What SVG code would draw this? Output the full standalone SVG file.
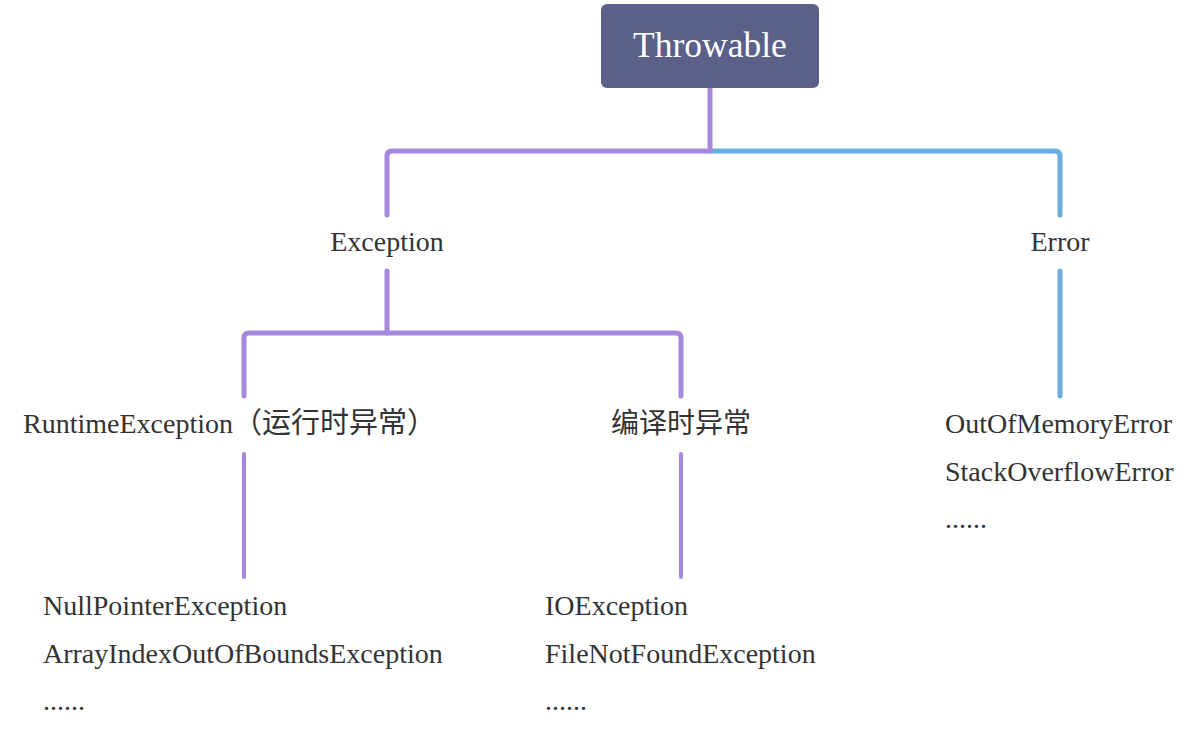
<svg xmlns="http://www.w3.org/2000/svg" width="1198" height="734" viewBox="0 0 1198 734">
<style>
.t{font-family:"Liberation Serif","Noto Sans CJK SC",serif;font-size:28px;fill:#333}
.c{font-family:"Noto Sans CJK SC","Liberation Sans",sans-serif;font-size:28px;fill:#333}
.p{fill:none;stroke:#a688dc;stroke-width:5;stroke-linecap:round;stroke-linejoin:round}
.b{fill:none;stroke:#6aaee0;stroke-width:5;stroke-linecap:round;stroke-linejoin:round}
.thin{stroke-width:4}
</style>
<rect width="1198" height="734" fill="#fff"/>
<g id="connectors">
<path class="b" d="M710 151 H1055 Q1060 151 1060 156 V215"/>
<path class="p" d="M710 88 V151 H392 Q387 151 387 156 V215"/>
<path class="p" d="M387 271 V333 H249 Q244 333 244 338 V396"/>
<path class="p" d="M387 333 H676 Q681 333 681 338 V396"/>
<path class="p thin" d="M244 454 V577"/>
<path class="p thin" d="M681 454 V577"/>
<path class="b" d="M1060 271 V396"/>
</g>
<g id="throwable">
<rect x="601" y="4" width="218" height="84" rx="6" fill="#5a6087"/>
<text x="710" y="57" text-anchor="middle" style="font-family:'Liberation Serif',serif;font-size:35.5px;fill:#fff">Throwable</text>
</g>
<g id="exception"><text class="t" x="387" y="251" text-anchor="middle">Exception</text></g>
<g id="error"><text class="t" x="1060" y="251" text-anchor="middle">Error</text></g>
<g id="runtime"><text class="t" x="23" y="433">RuntimeException<tspan class="c" style="font-size:29px">（运行时异常）</tspan></text></g>
<g id="checked"><text class="c" x="681" y="433" text-anchor="middle">编译时异常</text></g>
<g id="errors">
<text class="t" x="945" y="433">OutOfMemoryError</text>
<text class="t" x="945" y="481">StackOverflowError</text>
<text class="t" x="945" y="528">......</text>
</g>
<g id="runtime-list">
<text class="t" x="43" y="615">NullPointerException</text>
<text class="t" x="43" y="663">ArrayIndexOutOfBoundsException</text>
<text class="t" x="43" y="710">......</text>
</g>
<g id="checked-list">
<text class="t" x="545" y="615">IOException</text>
<text class="t" x="545" y="663">FileNotFoundException</text>
<text class="t" x="545" y="710">......</text>
</g>
</svg>
